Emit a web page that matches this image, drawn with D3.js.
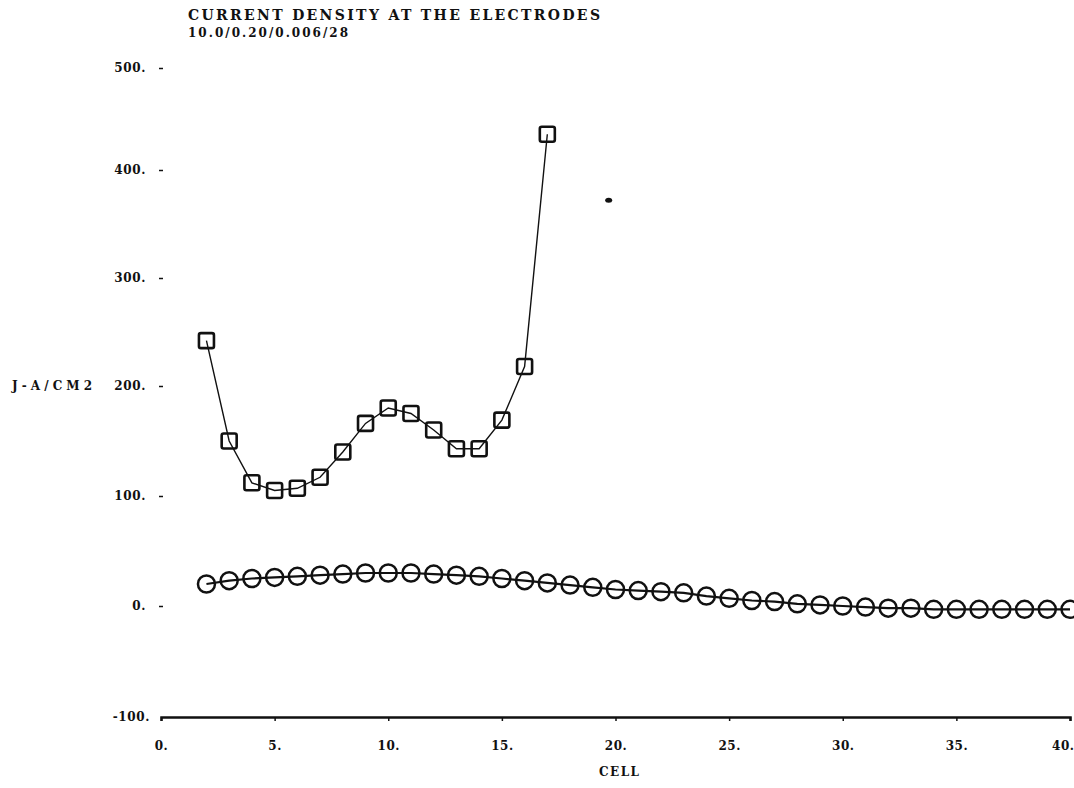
<!DOCTYPE html>
<html>
<head>
<meta charset="utf-8">
<script src="https://cdn.jsdelivr.net/npm/d3@7"></script>
<style>
  body { margin: 0; background: #fff; }
  text { font-family: "DejaVu Serif", serif; font-weight: bold; fill: #111; }
</style>
</head>
<body>
<div id="chart"></div>
<script>
// anode (squares) and cathode (circles) current density per cell
var squareCells = [2, 3, 4, 5, 6, 7, 8, 9, 10, 11, 12, 13, 14, 15, 16, 17];
var squareValues = [242, 150, 112, 105, 107, 117, 140, 166, 180, 175, 160, 143, 143, 169, 218, 435];

var circleCells = [2, 3, 4, 5, 6, 7, 8, 9, 10, 11, 12, 13, 14, 15, 16, 17, 18, 19, 20, 21,
                   22, 23, 24, 25, 26, 27, 28, 29, 30, 31, 32, 33, 34, 35, 36, 37, 38, 39, 40];
var circleValues = [20, 23, 25, 26, 27, 28, 29, 30, 30, 30, 29, 28, 27, 25, 23, 21, 19, 17, 15, 14,
                    13, 12, 9, 7, 5, 4, 2, 1, 0, -1, -2, -2, -3, -3, -3, -3, -3, -3, -3];

// lone stray point on the plot
var strayPoint = [19.7, 372];

var xTicks = [0, 5, 10, 15, 20, 25, 30, 35, 40];
var xTickLabels = ["0.", "5.", "10.", "15.", "20.", "25.", "30.", "35.", "40."];
var yTicks = [-100, 0, 100, 200, 300, 400, 500];
var yTickLabels = ["-100.", "0.", "100.", "200.", "300.", "400.", "500."];

var width = 1074, height = 788;

var svg = d3.select("#chart")
    .append("svg")
    .attr("width", width)
    .attr("height", height);

var x = d3.scaleLinear().domain([0, 40]).range([161, 1070]);
// the scanned plot is slightly stretched, so follow the printed tick positions
var y = d3.scaleLinear()
    .domain(yTicks)
    .range([717, 606, 496, 386, 278, 170, 68]);

// title
svg.append("text").attr("x", 188).attr("y", 20)
    .attr("font-size", 14)
    .attr("textLength", 412).attr("lengthAdjust", "spacing")
    .text("CURRENT DENSITY AT THE ELECTRODES");
svg.append("text").attr("x", 188).attr("y", 37)
    .attr("font-size", 12)
    .attr("textLength", 160).attr("lengthAdjust", "spacing")
    .text("10.0/0.20/0.006/28");

// X axis
var xAxis = svg.append("g")
    .attr("transform", "translate(0," + y(-100) + ")")
    .call(d3.axisBottom(x).tickValues(xTicks)
        .tickFormat(function(d, i) { return xTickLabels[i]; })
        .tickSize(4).tickPadding(20));
xAxis.select(".domain").attr("stroke", "#111").attr("stroke-width", 2.5);
xAxis.selectAll(".tick line").attr("stroke", "#111").attr("stroke-width", 1.5);
xAxis.selectAll("text").attr("font-size", 12).attr("font-family", "DejaVu Serif")
    .attr("font-weight", "bold").attr("fill", "#111").attr("letter-spacing", 0.5);
// keep the last label inside the page
xAxis.selectAll(".tick text").filter(function(d) { return d === 40; })
    .attr("text-anchor", "end").attr("dx", 4);

svg.append("text").attr("x", 599).attr("y", 776)
    .attr("font-size", 12)
    .attr("textLength", 40).attr("lengthAdjust", "spacing")
    .text("CELL");

// Y axis: tick marks only, no axis line
var yAxis = svg.append("g")
    .attr("transform", "translate(163,0)")
    .call(d3.axisLeft(y).tickValues(yTicks.slice(1))
        .tickFormat(function(d) { return yTickLabels[yTicks.indexOf(d)]; })
        .tickSize(4).tickPadding(13));
yAxis.select(".domain").remove();
yAxis.selectAll(".tick line").attr("stroke", "#111").attr("stroke-width", 1.5);
yAxis.selectAll("text").attr("font-size", 12).attr("font-family", "DejaVu Serif")
    .attr("font-weight", "bold").attr("fill", "#111").attr("letter-spacing", 0.6);

svg.append("text").attr("x", 150).attr("y", y(-100) + 4)
    .attr("text-anchor", "end").attr("font-size", 12).attr("letter-spacing", 0.6)
    .text(yTickLabels[0]);

svg.append("text").attr("x", 12).attr("y", y(200) + 4)
    .attr("font-size", 12)
    .attr("textLength", 80).attr("lengthAdjust", "spacing")
    .text("J-A/CM2");

// lines
var line = d3.line()
    .x(function(d) { return x(d[0]); })
    .y(function(d) { return y(d[1]); });

var squares = squareCells.map(function(c, i) { return [c, squareValues[i]]; });
var circles = circleCells.map(function(c, i) { return [c, circleValues[i]]; });

svg.append("path").datum(squares)
    .attr("d", line).attr("fill", "none")
    .attr("stroke", "#111").attr("stroke-width", 1.4);

svg.append("path").datum(circles)
    .attr("d", line).attr("fill", "none")
    .attr("stroke", "#111").attr("stroke-width", 2.2);

// square markers
svg.selectAll("rect.sq")
    .data(squares)
    .enter()
    .append("rect")
    .attr("class", "sq")
    .attr("x", function(d) { return x(d[0]) - 7.5; })
    .attr("y", function(d) { return y(d[1]) - 7.5; })
    .attr("width", 15).attr("height", 15)
    .attr("rx", 2)
    .attr("fill", "none").attr("stroke", "#111").attr("stroke-width", 2.6);

// circle markers
svg.selectAll("circle.ci")
    .data(circles)
    .enter()
    .append("circle")
    .attr("class", "ci")
    .attr("cx", function(d) { return x(d[0]); })
    .attr("cy", function(d) { return y(d[1]); })
    .attr("r", 8.5)
    .attr("fill", "none").attr("stroke", "#111").attr("stroke-width", 2.5);

// stray dot
svg.append("ellipse")
    .attr("cx", x(strayPoint[0])).attr("cy", y(strayPoint[1]))
    .attr("rx", 3.5).attr("ry", 2.5).attr("fill", "#111");
</script>
</body>
</html>
